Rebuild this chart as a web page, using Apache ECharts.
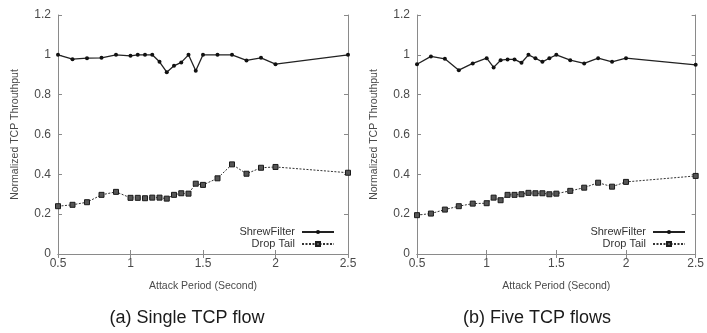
<!DOCTYPE html>
<html>
<head>
<meta charset="utf-8">
<script src="https://cdn.jsdelivr.net/npm/echarts@6/dist/echarts.min.js"></script>
<style>
  html, body { margin: 0; padding: 0; background: #fff; }
  #chart { width: 707px; height: 333px; }
</style>
</head>
<body>
<div id="chart"></div>
<script>
// attack periods (seconds), shared by both panels
const periods = [0.5, 0.6, 0.7, 0.8, 0.9, 1.0, 1.05, 1.1, 1.15, 1.2, 1.25, 1.3, 1.35, 1.4, 1.45, 1.5, 1.6, 1.7, 1.8, 1.9, 2.0, 2.5];

// (a) single TCP flow
const shrewSingle = [1.0, 0.978, 0.983, 0.985, 1.0, 0.995, 1.0, 1.0, 1.0, 0.965, 0.913, 0.945, 0.962, 1.0, 0.92, 1.0, 1.0, 1.0, 0.972, 0.985, 0.953, 1.0];
const dropSingle = [0.24, 0.247, 0.26, 0.297, 0.312, 0.282, 0.282, 0.28, 0.283, 0.283, 0.278, 0.297, 0.305, 0.303, 0.353, 0.347, 0.38, 0.45, 0.403, 0.433, 0.437, 0.408];

// (b) five TCP flows
const shrewFive = [0.953, 0.992, 0.98, 0.923, 0.957, 0.983, 0.937, 0.973, 0.977, 0.977, 0.96, 1.0, 0.983, 0.965, 0.983, 1.0, 0.973, 0.957, 0.983, 0.965, 0.983, 0.95];
const dropFive = [0.195, 0.203, 0.223, 0.24, 0.253, 0.255, 0.283, 0.27, 0.297, 0.297, 0.3, 0.307, 0.305, 0.305, 0.3, 0.303, 0.317, 0.333, 0.358, 0.338, 0.362, 0.392];

const seriesNames = ['ShrewFilter', 'Drop Tail'];
const captions = ['(a) Single TCP flow', '(b) Five TCP flows'];
const xTitle = 'Attack Period (Second)';
const yTitle = 'Normalized TCP Throuthput';

const FONT = 'Liberation Sans, Arial, sans-serif';
const AXIS_GRAY = '#8a8a8a';
const LABEL_GRAY = '#4a4a4a';

const pairs = (ys) => ys.map((v, i) => [periods[i], v]);

const grids = [
  { left: 58, right: 359, top: 15, bottom: 79 },
  { left: 417, right: 9, top: 15, bottom: 79 }
];

const xAxes = [];
const yAxes = [];
grids.forEach((g, gi) => {
  const base = {
    gridIndex: gi,
    type: 'value',
    axisLine: { show: true, lineStyle: { color: AXIS_GRAY, width: 1 } },
    axisTick: { show: true, inside: true, length: 4, lineStyle: { color: AXIS_GRAY } },
    splitLine: { show: false }
  };
  xAxes.push(Object.assign({}, base, {
    position: 'bottom',
    min: 0.5, max: 2.5, interval: 0.5,
    name: xTitle, nameLocation: 'middle', nameGap: 27,
    nameTextStyle: { fontFamily: FONT, fontSize: 10.5, color: LABEL_GRAY },
    axisLabel: { fontFamily: FONT, fontSize: 12, color: LABEL_GRAY, margin: 4 }
  }));
  xAxes.push(Object.assign({}, base, {
    position: 'top',
    min: 0.5, max: 2.5, interval: 0.5,
    axisLabel: { show: false }
  }));
  yAxes.push(Object.assign({}, base, {
    position: 'left',
    min: 0, max: 1.2, interval: 0.2,
    name: yTitle, nameLocation: 'middle', nameGap: 37, nameRotate: 90,
    nameTextStyle: { fontFamily: FONT, fontSize: 10.5, color: LABEL_GRAY },
    axisLabel: { fontFamily: FONT, fontSize: 12, color: LABEL_GRAY, margin: 7,
      formatter: (v) => String(Math.round(v * 10) / 10) }
  }));
  yAxes.push(Object.assign({}, base, {
    position: 'right',
    min: 0, max: 1.2, interval: 0.2,
    axisLabel: { show: false }
  }));
});

const shrewStyle = (data, gi) => ({
  name: seriesNames[0],
  type: 'line',
  xAxisIndex: gi * 2, yAxisIndex: gi * 2,
  data: pairs(data),
  symbol: 'circle', symbolSize: 4,
  itemStyle: { color: '#111' },
  lineStyle: { color: '#222', width: 1.3, type: 'solid' },
  animation: false
});
const dropStyle = (data, gi) => ({
  name: seriesNames[1],
  type: 'line',
  xAxisIndex: gi * 2, yAxisIndex: gi * 2,
  data: pairs(data),
  symbol: 'rect', symbolSize: 5,
  itemStyle: { color: '#555', borderColor: '#1a1a1a', borderWidth: 1 },
  lineStyle: { color: '#333', width: 1, type: [2, 1.5] },
  animation: false
});

const legendBase = {
  orient: 'vertical',
  align: 'right',
  top: 226,
  padding: 0,
  itemWidth: 32, itemHeight: 5, itemGap: 0,
  selectedMode: false,
  textStyle: { fontFamily: FONT, fontSize: 11, color: '#333', lineHeight: 12, padding: [0, 2, 0, 0] },
  data: seriesNames
};

const chart = echarts.init(document.getElementById('chart'), null, { renderer: 'canvas' });
chart.setOption({
  backgroundColor: '#fff',
  animation: false,
  grid: grids,
  xAxis: xAxes,
  yAxis: yAxes,
  legend: [
    Object.assign({}, legendBase, { right: 372 }),
    Object.assign({}, legendBase, { right: 21 })
  ],
  graphic: [
    { type: 'text', x: 187, y: 318, style: { text: captions[0], font: '18px ' + FONT, fill: '#1a1a1a', align: 'center', verticalAlign: 'middle' } },
    { type: 'text', x: 537, y: 318, style: { text: captions[1], font: '18px ' + FONT, fill: '#1a1a1a', align: 'center', verticalAlign: 'middle' } }
  ],
  series: [
    shrewStyle(shrewSingle, 0),
    dropStyle(dropSingle, 0),
    shrewStyle(shrewFive, 1),
    dropStyle(dropFive, 1)
  ]
});
</script>
</body>
</html>
